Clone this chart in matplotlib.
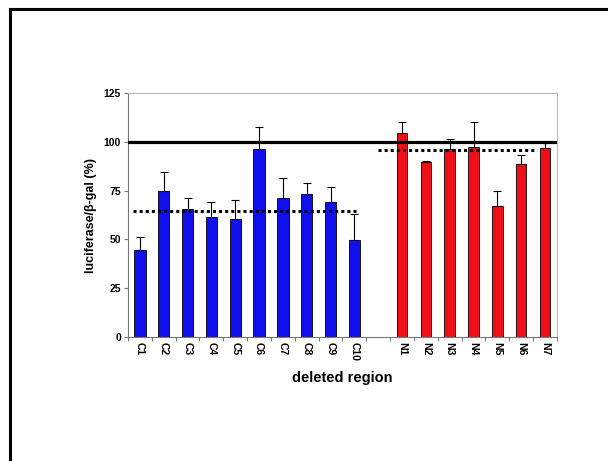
import matplotlib
matplotlib.use("Agg")
import matplotlib.pyplot as plt
from matplotlib.lines import Line2D
import numpy as np

plt.rcParams["font.family"] = ["Liberation Sans", "DejaVu Sans"]
plt.rcParams["font.weight"] = "bold"

c_labels = ["C1", "C2", "C3", "C4", "C5", "C6", "C7", "C8", "C9", "C10"]
c_values = [44.5, 74.8, 65.6, 61.3, 60.4, 96.2, 71.1, 73.3, 69.2, 49.7]
c_err = [6.9, 9.6, 5.8, 7.7, 9.8, 11.7, 10.2, 5.5, 7.7, 13.2]

n_labels = ["N1", "N2", "N3", "N4", "N5", "N6", "N7"]
n_values = [104.8, 89.6, 96.2, 97.6, 67.1, 88.7, 96.8]
n_err = [5.3, 0.8, 5.3, 12.5, 7.7, 4.6, 2.8]

control_level = 100
c_mean = 64.7
n_mean = 95.7

fig = plt.figure(figsize=(6.08, 4.61), dpi=100)
ax = fig.add_axes([0.2105, 0.2696, 0.7056, 0.528])

c_x = np.arange(len(c_labels))
n_x = np.arange(len(n_labels)) + len(c_labels) + 1

ax.bar(c_x, c_values, width=0.48, color="#1010ec", edgecolor="black", linewidth=0.6, zorder=2)
ax.bar(n_x, n_values, width=0.44, color="#ee0f18", edgecolor="black", linewidth=0.6, zorder=2)
ax.errorbar(c_x, c_values, yerr=[np.zeros(len(c_err)), c_err], fmt="none",
            ecolor="black", elinewidth=0.8, capsize=3, capthick=0.8, zorder=3)
ax.errorbar(n_x, n_values, yerr=[np.zeros(len(n_err)), n_err], fmt="none",
            ecolor="black", elinewidth=0.8, capsize=3, capthick=0.8, zorder=3)

ax.axhline(control_level, color="black", lw=2.3, zorder=4)
ax.hlines(c_mean, -0.3, 9.2, colors="black", linestyles=(0, (1, 1)), lw=2.2, zorder=4)
ax.hlines(n_mean, 10.0, 16.66, colors="black", linestyles=(0, (1, 1)), lw=2.2, zorder=4)

ax.set_xlim(-0.5, 17.5)
ax.set_ylim(0, 125)
ax.set_yticks([0, 25, 50, 75, 100, 125])
ax.tick_params(axis="y", labelsize=7.5, length=3, width=0.8, color="#777777", pad=2)

ax.set_xticks(list(c_x) + list(n_x))
ax.set_xticklabels(c_labels + n_labels, rotation=270, fontsize=7.5)
ax.tick_params(axis="x", length=0, pad=4)
ax.set_xticks(np.arange(-0.5, 18, 1), minor=True)
ax.tick_params(axis="x", which="minor", length=3, width=0.8, color="#777777")

ax.set_ylabel("luciferase/β-gal (%)", fontsize=9, fontweight="bold", labelpad=5)
ax.set_xlabel("deleted region", fontsize=10.5, fontweight="bold", labelpad=7)

for side in ["top", "right"]:
    ax.spines[side].set_color("#b8b8b8")
    ax.spines[side].set_linewidth(0.8)
for side in ["left", "bottom"]:
    ax.spines[side].set_color("#777777")
    ax.spines[side].set_linewidth(0.8)

# outer frame
fig.add_artist(Line2D([9.5 / 608, 1], [1 - 9.5 / 461, 1 - 9.5 / 461], color="black", lw=2.2))
fig.add_artist(Line2D([9.5 / 608, 9.5 / 608], [0, 1 - 9.5 / 461], color="black", lw=2.2))

fig.savefig("out.png", dpi=100)
